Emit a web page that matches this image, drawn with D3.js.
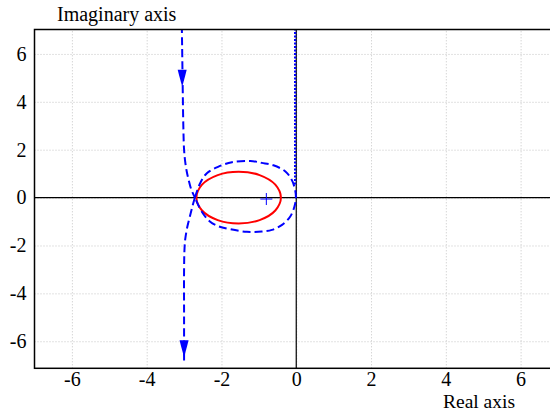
<!DOCTYPE html>
<html>
<head>
<meta charset="utf-8">
<script src="https://cdn.jsdelivr.net/npm/d3@7"></script>
<style>
  html, body { margin: 0; padding: 0; background: #fff; }
  svg { display: block; }
  text { font-family: "Liberation Serif", "DejaVu Serif", serif; }
</style>
</head>
<body>
<svg id="chart" width="550" height="412"></svg>
<script>
// ---- data ----
const xTicks = [-6, -4, -2, 0, 2, 4, 6];
const yTicks = [-6, -4, -2, 0, 2, 4, 6];
const xTickLabels = ["-6", "-4", "-2", "0", "2", "4", "6"];
const yTickLabels = ["-6", "-4", "-2", "0", "2", "4", "6"];

// upper asymptotic branch (real, imag)
const upperBranch = [[-3.06, 7.2], [-3.04, 5], [-3.02, 3], [-3.0, 2], [-2.97, 1.5],
  [-2.93, 1.1], [-2.88, 0.75], [-2.81, 0.35], [-2.71, 0]];
// lower asymptotic branch
const lowerBranch = [[-2.71, 0], [-2.77, -0.33], [-2.83, -0.7], [-2.91, -1.2],
  [-2.97, -1.75], [-2.99, -2.2], [-3.0, -3], [-3.0, -5], [-3.0, -6.9]];
// dashed loop around the pole
const loopBranch = [[-2.71, 0], [-2.57, 0.6], [-2.39, 1.02], [-2.08, 1.29], [-1.72, 1.48],
  [-1.23, 1.53], [-0.92, 1.45], [-0.61, 1.35], [-0.29, 1.09], [-0.12, 0.74], [-0.03, 0.32],
  [-0.01, -0.03], [-0.05, -0.38], [-0.16, -0.79], [-0.38, -1.14], [-0.65, -1.35],
  [-0.92, -1.42], [-1.32, -1.43], [-1.77, -1.32], [-2.08, -1.2], [-2.31, -1.0],
  [-2.53, -0.58], [-2.71, 0]];
// dotted branch on the imaginary axis
const dottedBranch = [[-0.03, 0.55], [-0.03, 7.2]];
// red closed curve
const redCurve = [[-0.41, 0], [-0.56, 0.54], [-0.98, 0.94], [-1.54, 1.08], [-2.10, 0.94],
  [-2.52, 0.54], [-2.67, 0], [-2.52, -0.54], [-2.10, -0.94], [-1.54, -1.08],
  [-0.98, -0.94], [-0.56, -0.54]];
// pole marker
const poles = [[-0.8, -0.06]];
// direction arrows (tip positions, pointing down)
const arrows = [[-3.05, 4.63], [-3.0, -6.67]];

const xLabel = "Real axis";
const yLabel = "Imaginary axis";

// ---- layout ----
const svg = d3.select("#chart");
const pL = 34.5, pR = 558, pT = 29.5, pB = 368.3;
const x = d3.scaleLinear().domain([-7, 7]).range([pL, pR]);
const y = d3.scaleLinear().domain([-7.13, 7.02]).range([pB, pT]);

svg.append("defs").append("clipPath").attr("id", "clip")
  .append("rect").attr("x", pL).attr("y", pT)
  .attr("width", pR - pL).attr("height", pB - pT);

// grid
const gridX = svg.append("g").attr("transform", `translate(0,${pB})`)
  .call(d3.axisBottom(x).tickValues(xTicks).tickSize(-(pB - pT)).tickFormat(""));
const gridY = svg.append("g").attr("transform", `translate(${pL},0)`)
  .call(d3.axisLeft(y).tickValues(yTicks).tickSize(-(pR - pL)).tickFormat(""));
[gridX, gridY].forEach(g => {
  g.select(".domain").remove();
  g.selectAll(".tick line").attr("stroke", "#c4c4c4").attr("stroke-width", 1)
    .attr("stroke-dasharray", "1,2");
});

// tick labels
const axX = svg.append("g").attr("transform", `translate(0,${pB})`)
  .call(d3.axisBottom(x).tickValues(xTicks).tickSize(0).tickPadding(4)
    .tickFormat((d, i) => xTickLabels[i]));
axX.select(".domain").remove();
axX.selectAll("text").attr("font-family", "Liberation Serif").attr("font-size", 20)
  .attr("fill", "#000");

const axY = svg.append("g").attr("transform", `translate(${pL},0)`)
  .call(d3.axisLeft(y).tickValues(yTicks).tickSize(0).tickPadding(8)
    .tickFormat((d, i) => yTickLabels[i]));
axY.select(".domain").remove();
axY.selectAll("text").attr("font-family", "Liberation Serif").attr("font-size", 20)
  .attr("fill", "#000");

const plot = svg.append("g").attr("clip-path", "url(#clip)");

// zero axes
plot.append("line").attr("x1", x(0)).attr("x2", x(0)).attr("y1", pT).attr("y2", pB)
  .attr("stroke", "#000").attr("stroke-width", 1.2);
plot.append("line").attr("x1", pL).attr("x2", pR).attr("y1", y(0)).attr("y2", y(0))
  .attr("stroke", "#000").attr("stroke-width", 1.2);

const line = d3.line().x(d => x(d[0])).y(d => y(d[1])).curve(d3.curveCatmullRom.alpha(0.5));
const closed = d3.line().x(d => x(d[0])).y(d => y(d[1])).curve(d3.curveCatmullRomClosed.alpha(0.5));

// red curve
plot.append("path").attr("d", closed(redCurve)).attr("fill", "none")
  .attr("stroke", "#ff0000").attr("stroke-width", 2);

// blue dashed branches
[upperBranch, lowerBranch, loopBranch].forEach(b => {
  plot.append("path").attr("d", line(b)).attr("fill", "none")
    .attr("stroke", "#0000ff").attr("stroke-width", 2).attr("stroke-dasharray", "8,4");
});
// dotted branch
plot.append("path").attr("d", d3.line().x(d => x(d[0])).y(d => y(d[1]))(dottedBranch))
  .attr("fill", "none").attr("stroke", "#0000ff").attr("stroke-width", 2.2)
  .attr("stroke-dasharray", "2,1.5");

// arrows
plot.selectAll("path.arrow").data(arrows).join("path").attr("class", "arrow")
  .attr("d", d => {
    const tx = x(d[0]), ty = y(d[1]);
    return `M${tx - 4.5},${ty - 17} L${tx + 4.5},${ty - 17} L${tx + 3},${ty - 11} L${tx},${ty} L${tx - 3},${ty - 11} Z`;
  })
  .attr("fill", "#0000ff");

// pole marker
plot.selectAll("g.pole").data(poles).join("g").attr("class", "pole")
  .each(function (d) {
    const g = d3.select(this), px = x(d[0]), py = y(d[1]);
    g.append("line").attr("x1", px - 6).attr("x2", px + 6).attr("y1", py).attr("y2", py)
      .attr("stroke", "#0000ff").attr("stroke-width", 1);
    g.append("line").attr("x1", px).attr("x2", px).attr("y1", py - 6).attr("y2", py + 6)
      .attr("stroke", "#0000ff").attr("stroke-width", 1);
  });

// frame
svg.append("rect").attr("x", pL).attr("y", pT).attr("width", pR - pL)
  .attr("height", pB - pT).attr("fill", "none").attr("stroke", "#000")
  .attr("stroke-width", 1.5);

// axis titles
svg.append("text").attr("x", 57).attr("y", 21).attr("font-size", 20).attr("fill", "#000")
  .text(yLabel);
svg.append("text").attr("x", 443).attr("y", 408).attr("font-size", 19.5).attr("fill", "#000")
  .text(xLabel);
</script>
</body>
</html>
